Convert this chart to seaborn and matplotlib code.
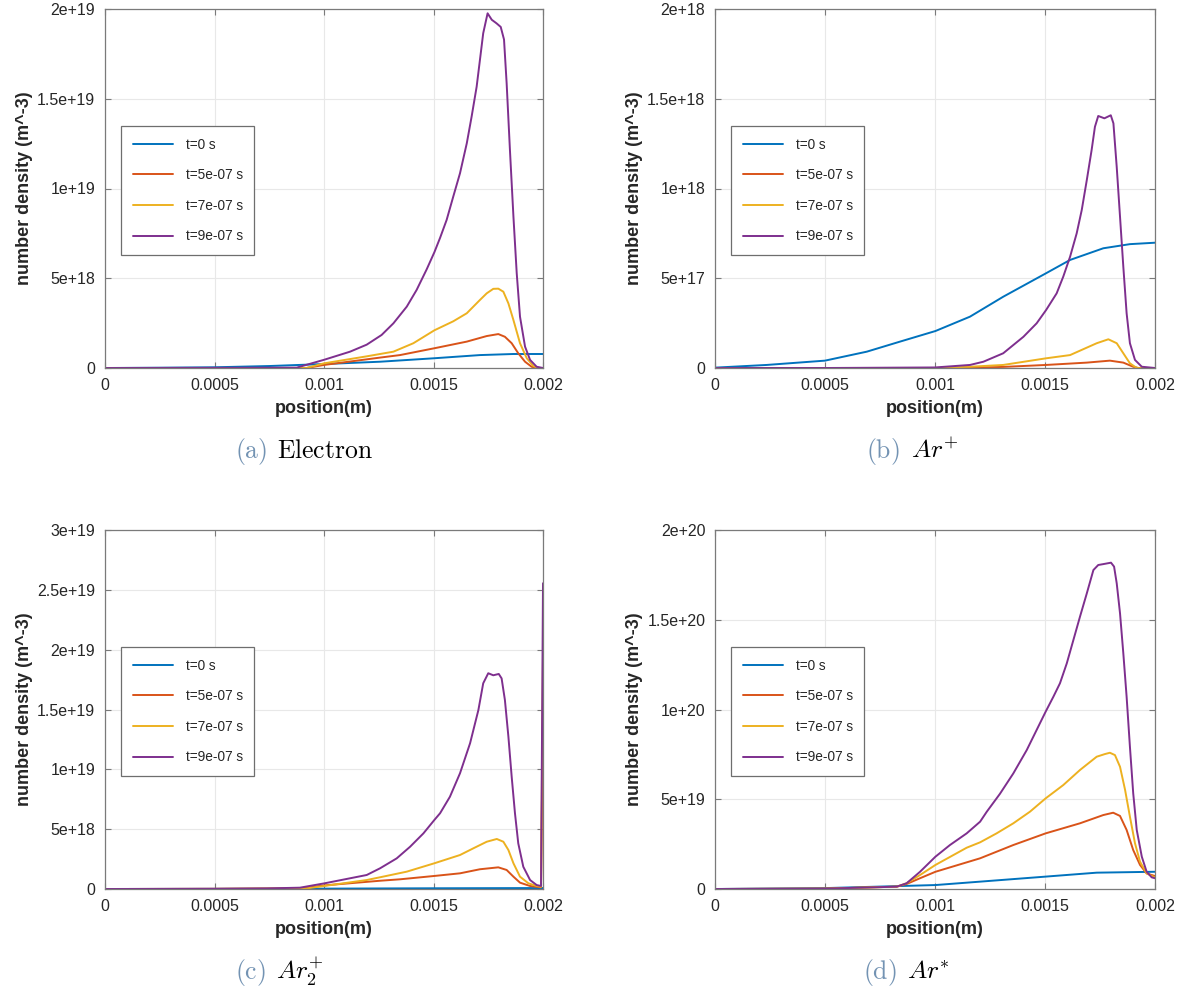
import numpy as np
import pandas as pd
import matplotlib
matplotlib.use("Agg")
import matplotlib.pyplot as plt
import seaborn as sns

# ---------------- data ----------------
SERIES = ["t=0 s", "t=5e-07 s", "t=7e-07 s", "t=9e-07 s"]
COLORS = ["#0072BD", "#D95319", "#EDB120", "#7E2F8E"]

X_TICKS = [0, 0.0005, 0.001, 0.0015, 0.002]
X_TICKLABELS = ["0", "0.0005", "0.001", "0.0015", "0.002"]

# (a) Electron
A_T0_X = [0, 0.00025, 0.0005, 0.00075, 0.001, 0.001256, 0.0015, 0.001712, 0.001865, 0.002]
A_T0_Y = [0, 1.5e16, 4e16, 1.1e17, 2.2e17, 3.5e17, 5.4e17, 7.2e17, 7.8e17, 7.8e17]
A_T5_X = [0, 0.0005, 0.00092, 0.001, 0.001256, 0.001347, 0.001504, 0.001652, 0.001743, 0.001796,
          0.001826, 0.001857, 0.001887, 0.001918, 0.001948, 0.001975, 0.002]
A_T5_Y = [0, 0, 0, 1.7e17, 5.8e17, 7.2e17, 1.1e18, 1.47e18, 1.78e18, 1.89e18,
          1.74e18, 1.38e18, 8.2e17, 3.5e17, 7e16, 0, 0]
A_T7_X = [0, 0.0005, 0.00092, 0.001, 0.001195, 0.001317, 0.001408, 0.001504, 0.00159, 0.001652,
          0.001712, 0.001743, 0.001773, 0.001796, 0.001819, 0.001842, 0.001865, 0.001895, 0.001926,
          0.001956, 0.001979, 0.002]
A_T7_Y = [0, 0, 0, 2.6e17, 6.5e17, 9.1e17, 1.38e18, 2.1e18, 2.6e18, 3.05e18,
          3.79e18, 4.16e18, 4.41e18, 4.42e18, 4.25e18, 3.6e18, 2.67e18, 1.38e18, 5.4e17,
          1.1e17, 0, 0]
A_T9_X = [0, 0.0005, 0.000875, 0.001001, 0.001119, 0.001195, 0.001263, 0.001317, 0.001378, 0.001423,
          0.001469, 0.001504, 0.00153, 0.00156, 0.00159, 0.001621, 0.001652, 0.001674, 0.001697,
          0.001712, 0.001727, 0.001747, 0.001766, 0.001788, 0.001807, 0.001822, 0.001834, 0.001849,
          0.001865, 0.00188, 0.001895, 0.001918, 0.001941, 0.001971, 0.002]
A_T9_Y = [0, 1e16, 2e16, 4.6e17, 9.1e17, 1.3e18, 1.84e18, 2.49e18, 3.42e18, 4.35e18,
          5.5e18, 6.45e18, 7.25e18, 8.25e18, 9.54e18, 1.085e19, 1.252e19, 1.4e19, 1.567e19,
          1.716e19, 1.865e19, 1.976e19, 1.94e19, 1.92e19, 1.9e19, 1.83e19, 1.586e19, 1.215e19,
          8.43e18, 5.28e18, 2.86e18, 1.19e18, 4.5e17, 7e16, 0]
A_YTICKS = [0, 5e18, 1e19, 1.5e19, 2e19]
A_YTICKLABELS = ["0", "5e+18", "1e+19", "1.5e+19", "2e+19"]

# (b) Ar+
B_T0_X = [0, 0.000235, 0.0005, 0.00069, 0.000841, 0.001002, 0.001159, 0.00131, 0.001505, 0.001614,
          0.001765, 0.001886, 0.002]
B_T0_Y = [2e15, 1.7e16, 4.1e16, 9.1e16, 1.47e17, 2.06e17, 2.86e17, 3.97e17, 5.28e17, 6.02e17,
          6.67e17, 6.9e17, 6.98e17]
B_T5_X = [0, 0.0005, 0.0011, 0.00131, 0.001505, 0.00169, 0.001795, 0.001856, 0.001901, 0.001925, 0.002]
B_T5_Y = [0, 0, 0, 6e15, 1.7e16, 3e16, 4.1e16, 3e16, 7e15, 0, 0]
B_T7_X = [0, 0.0005, 0.001, 0.001159, 0.00131, 0.001505, 0.001614, 0.001735, 0.001788, 0.001826,
          0.001856, 0.001886, 0.001917, 0.002]
B_T7_Y = [0, 0, 0, 7e15, 1.7e16, 5.4e16, 7.2e16, 1.38e17, 1.6e17, 1.38e17,
          8.2e16, 2.6e16, 0, 0]
B_T9_X = [0, 0.0005, 0.001, 0.001159, 0.00122, 0.00131, 0.001402, 0.001462, 0.001505, 0.001553,
          0.001583, 0.001614, 0.001644, 0.001667, 0.00169, 0.001712, 0.001727, 0.001742, 0.00177,
          0.001799, 0.001811, 0.001826, 0.001841, 0.001856, 0.001871, 0.001886, 0.001909, 0.00194, 0.002]
B_T9_Y = [0, 0, 3e15, 1.7e16, 3.5e16, 8.2e16, 1.74e17, 2.49e17, 3.23e17, 4.16e17,
          5.09e17, 6.2e17, 7.5e17, 8.8e17, 1.047e18, 1.215e18, 1.344e18, 1.404e18, 1.391e18,
          1.408e18, 1.363e18, 1.12e18, 8.43e17, 5.64e17, 3.05e17, 1.38e17, 4.5e16, 7e15, 0]
B_YTICKS = [0, 5e17, 1e18, 1.5e18, 2e18]
B_YTICKLABELS = ["0", "5e+17", "1e+18", "1.5e+18", "2e+18"]

# (c) Ar2+
C_T0_X = [0, 0.0005, 0.001, 0.0015, 0.002]
C_T0_Y = [0, 1e16, 3e16, 6e16, 8e16]
C_T5_X = [0, 0.0005, 0.0009, 0.001, 0.001256, 0.001347, 0.001504, 0.001621, 0.001712, 0.001796,
          0.001834, 0.001865, 0.001895, 0.001941, 0.001991, 0.002]
C_T5_Y = [0, 1e16, 5e16, 3e17, 6.9e17, 8.1e17, 1.09e18, 1.31e18, 1.65e18, 1.81e18,
          1.59e18, 1.03e18, 5.3e17, 2.5e17, 1.4e17, 1.52e19]
C_T7_X = [0, 0.0005, 0.00092, 0.001, 0.001195, 0.001256, 0.001378, 0.001504, 0.001621, 0.001682,
          0.001743, 0.001789, 0.001819, 0.001842, 0.001865, 0.001895, 0.001933, 0.001971, 0.001991, 0.002]
C_T7_Y = [0, 1e16, 5e16, 2.5e17, 7.5e17, 9.8e17, 1.45e18, 2.15e18, 2.84e18, 3.4e18,
          3.95e18, 4.18e18, 3.95e18, 3.26e18, 2.15e18, 1.03e18, 4.8e17, 2.5e17, 1.9e17, 1.96e19]
C_T9_X = [0, 0.0005, 0.000738, 0.00089, 0.001001, 0.001195, 0.001256, 0.001332, 0.001393, 0.001454,
          0.001504, 0.00153, 0.001575, 0.001621, 0.001667, 0.001705, 0.001727, 0.00175, 0.001773,
          0.001798, 0.001811, 0.001826, 0.001842, 0.001857, 0.001872, 0.001887, 0.00191, 0.001941,
          0.001971, 0.001991, 0.002]
C_T9_Y = [0, 2e16, 5e16, 1.1e17, 4.7e17, 1.17e18, 1.73e18, 2.56e18, 3.53e18, 4.65e18,
          5.77e18, 6.33e18, 7.71e18, 9.67e18, 1.218e19, 1.496e19, 1.719e19, 1.803e19, 1.786e19,
          1.797e19, 1.76e19, 1.58e19, 1.273e19, 9.38e18, 6.33e18, 3.82e18, 1.86e18, 7.5e17,
          3.3e17, 2.5e17, 2.555e19]
C_YTICKS = [0, 5e18, 1e19, 1.5e19, 2e19, 2.5e19, 3e19]
C_YTICKLABELS = ["0", "5e+18", "1e+19", "1.5e+19", "2e+19", "2.5e+19", "3e+19"]

# (d) Ar*
D_T0_X = [0, 0.0005, 0.001002, 0.001205, 0.001503, 0.001735, 0.002]
D_T0_Y = [0, 5e17, 2.2e18, 4.1e18, 6.9e18, 9.1e18, 9.6e18]
D_T5_X = [0, 0.0005, 0.000826, 0.000871, 0.000932, 0.001002, 0.001205, 0.001356, 0.001503, 0.001659,
          0.001765, 0.00181, 0.001841, 0.001871, 0.001901, 0.001932, 0.001962, 0.002]
D_T5_Y = [0, 2e17, 1.3e18, 2.8e18, 6e18, 9.6e18, 1.71e19, 2.45e19, 3.1e19, 3.66e19,
          4.12e19, 4.25e19, 4.07e19, 3.29e19, 2.17e19, 1.34e19, 8.7e18, 7.2e18]
D_T7_X = [0, 0.0005, 0.000826, 0.000871, 0.000932, 0.001002, 0.001144, 0.001205, 0.00128, 0.001356,
          0.001432, 0.001503, 0.001583, 0.001659, 0.001735, 0.001773, 0.001795, 0.001818, 0.001841,
          0.001864, 0.001886, 0.001909, 0.001932, 0.001962, 0.001992, 0.002]
D_T7_Y = [0, 2e17, 1.3e18, 3.2e18, 7.8e18, 1.34e19, 2.3e19, 2.6e19, 3.1e19, 3.66e19,
          4.31e19, 5.05e19, 5.79e19, 6.63e19, 7.37e19, 7.52e19, 7.59e19, 7.46e19, 6.81e19,
          5.52e19, 4.03e19, 2.55e19, 1.52e19, 8.7e18, 6.9e18, 6.5e18]
D_T9_X = [0, 0.0005, 0.000826, 0.000871, 0.000932, 0.001002, 0.001068, 0.001144, 0.001205, 0.001235,
          0.001295, 0.001356, 0.001417, 0.001462, 0.001503, 0.001538, 0.001568, 0.001599, 0.001629,
          0.001659, 0.00169, 0.00172, 0.001742, 0.001765, 0.0018, 0.001814, 0.001826, 0.001841,
          0.001856, 0.001871, 0.001886, 0.001901, 0.001917, 0.00194, 0.001962, 0.001985, 0.002]
D_T9_Y = [0, 2e17, 1.3e18, 3.2e18, 9.6e18, 1.8e19, 2.45e19, 3.1e19, 3.75e19, 4.3e19,
          5.3e19, 6.44e19, 7.74e19, 8.86e19, 9.88e19, 1.071e20, 1.146e20, 1.257e20, 1.387e20,
          1.517e20, 1.647e20, 1.777e20, 1.805e20, 1.81e20, 1.818e20, 1.796e20, 1.703e20, 1.536e20,
          1.313e20, 1.071e20, 7.93e19, 5.33e19, 3.29e19, 1.8e19, 9.6e18, 6.5e18, 6e18]
D_YTICKS = [0, 5e19, 1e20, 1.5e20, 2e20]
D_YTICKLABELS = ["0", "5e+19", "1e+20", "1.5e+20", "2e+20"]

CAPTION_TAGS = ["(a)", "(b)", "(c)", "(d)"]
CAPTION_NAMES = [r"$\mathrm{Electron}$", r"$Ar^{+}$", r"$Ar_2^{+}$", r"$Ar^{*}$"]

XLABEL = "position(m)"
YLABEL = "number density (m^-3)"

# ---------------- styling ----------------
sns.set_theme(style="whitegrid")
plt.rcParams["font.family"] = ["Liberation Sans", "DejaVu Sans"]
plt.rcParams["mathtext.fontset"] = "cm"

fig = plt.figure(figsize=(11.84, 9.9), dpi=100)
W, H = 1184.0, 990.0


def axes_at(left, top, right, bottom):
    return fig.add_axes([left / W, 1 - bottom / H, (right - left) / W, (bottom - top) / H])


panels = [
    (axes_at(105, 9, 543, 368), [(A_T0_X, A_T0_Y), (A_T5_X, A_T5_Y), (A_T7_X, A_T7_Y), (A_T9_X, A_T9_Y)],
     A_YTICKS, A_YTICKLABELS),
    (axes_at(715, 9, 1155, 368), [(B_T0_X, B_T0_Y), (B_T5_X, B_T5_Y), (B_T7_X, B_T7_Y), (B_T9_X, B_T9_Y)],
     B_YTICKS, B_YTICKLABELS),
    (axes_at(105, 530, 543, 889), [(C_T0_X, C_T0_Y), (C_T5_X, C_T5_Y), (C_T7_X, C_T7_Y), (C_T9_X, C_T9_Y)],
     C_YTICKS, C_YTICKLABELS),
    (axes_at(715, 530, 1155, 889), [(D_T0_X, D_T0_Y), (D_T5_X, D_T5_Y), (D_T7_X, D_T7_Y), (D_T9_X, D_T9_Y)],
     D_YTICKS, D_YTICKLABELS),
]

for ax, series, yt, ytl in panels:
    frames = []
    for name, (xs, ys) in zip(SERIES, series):
        frames.append(pd.DataFrame({"x": xs, "v": ys, "series": name}))
    df = pd.concat(frames, ignore_index=True)
    sns.lineplot(data=df, x="x", y="v", hue="series", hue_order=SERIES,
                 palette=COLORS, estimator=None, sort=False, linewidth=1.4, ax=ax, legend=True)
    ax.set_facecolor("white")
    ax.set_xlim(X_TICKS[0], X_TICKS[-1])
    ax.set_ylim(yt[0], yt[-1])
    ax.set_xticks(X_TICKS)
    ax.set_xticklabels(X_TICKLABELS)
    ax.set_yticks(yt)
    ax.set_yticklabels(ytl)
    ax.grid(True, color="#e8e8e8", linewidth=0.8)
    for sp in ax.spines.values():
        sp.set_visible(True)
        sp.set_color("#7a7a7a")
        sp.set_linewidth(0.9)
    ax.tick_params(axis="both", which="both", direction="in", length=4, width=0.8,
                   color="#7a7a7a", top=True, right=True, bottom=True, left=True,
                   labelsize=11.5, labelcolor="#262626", pad=7)
    ax.set_xlabel(XLABEL, fontsize=13, fontweight="bold", color="#262626", labelpad=5)
    ax.set_ylabel(YLABEL, fontsize=13, fontweight="bold", color="#262626", labelpad=3)
    handles, labels = ax.get_legend_handles_labels()
    leg = ax.legend(handles, labels, loc="upper left", bbox_to_anchor=(0.0365, 0.674),
                    frameon=True, fancybox=False, framealpha=1, edgecolor="#6e6e6e",
                    fontsize=9.8, handlelength=3.0, labelspacing=1.22, borderpad=0.85,
                    handletextpad=0.9, borderaxespad=0)
    leg.get_frame().set_linewidth(0.9)
    for line in leg.get_lines():
        line.set_linewidth(1.4)

# captions
TAG_COLOR = "#7393b3"
cap_pos = [(267, 277, 458), (900, 911, 458), (266, 276, 979), (897, 907, 979)]
for (xr, xl, yb), tag, name in zip(cap_pos, CAPTION_TAGS, CAPTION_NAMES):
    fig.text(xr / W, 1 - yb / H, r"$\mathrm{" + tag + "}$", ha="right", va="baseline",
             fontsize=18.5, color=TAG_COLOR)
    fig.text(xl / W, 1 - yb / H, name, ha="left", va="baseline", fontsize=18.5, color="black")

fig.savefig("out.png", dpi=100)
